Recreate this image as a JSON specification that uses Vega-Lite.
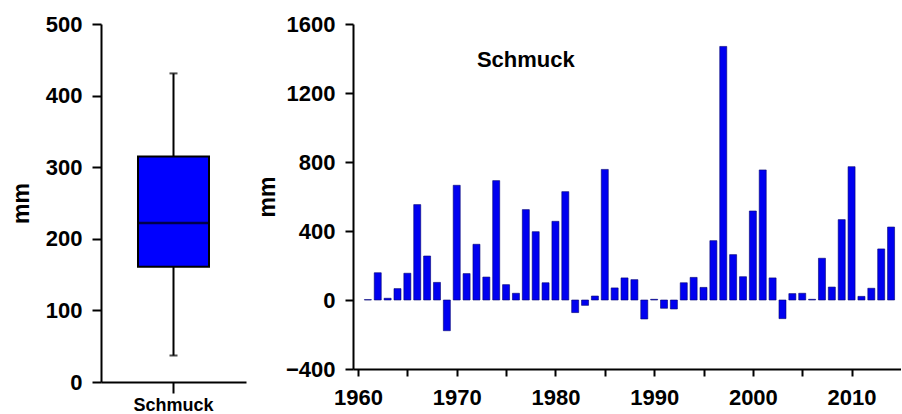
{
  "$schema": "https://vega.github.io/schema/vega-lite/v6.json",
  "padding": {"left": 10, "top": 13, "right": 0, "bottom": 0},
  "background": "white",
  "config": {
    "view": {"stroke": null},
    "axis": {
      "domainColor": "black", "domainWidth": 2, "tickColor": "black", "tickWidth": 2,
      "labelColor": "black", "labelFont": "Liberation Sans", "labelFontWeight": "bold",
      "titleColor": "black", "titleFont": "Liberation Sans", "titleFontWeight": "bold",
      "grid": false
    },
    "concat": {"spacing": 10}
  },
  "datasets": {
    "box": [{"station": "Schmuck", "min": 37, "q1": 161, "median": 222, "q3": 315, "max": 431}],
    "annual": [
      {"year": 1961, "value": 2}, {"year": 1962, "value": 158}, {"year": 1963, "value": 10},
      {"year": 1964, "value": 66}, {"year": 1965, "value": 155}, {"year": 1966, "value": 553},
      {"year": 1967, "value": 255}, {"year": 1968, "value": 102}, {"year": 1969, "value": -178},
      {"year": 1970, "value": 665}, {"year": 1971, "value": 153}, {"year": 1972, "value": 323},
      {"year": 1973, "value": 133}, {"year": 1974, "value": 692}, {"year": 1975, "value": 89},
      {"year": 1976, "value": 39}, {"year": 1977, "value": 524}, {"year": 1978, "value": 396},
      {"year": 1979, "value": 100}, {"year": 1980, "value": 456}, {"year": 1981, "value": 628},
      {"year": 1982, "value": -73}, {"year": 1983, "value": -31}, {"year": 1984, "value": 23},
      {"year": 1985, "value": 757}, {"year": 1986, "value": 70}, {"year": 1987, "value": 128},
      {"year": 1988, "value": 118}, {"year": 1989, "value": -110}, {"year": 1990, "value": 4},
      {"year": 1991, "value": -48}, {"year": 1992, "value": -52}, {"year": 1993, "value": 100},
      {"year": 1994, "value": 131}, {"year": 1995, "value": 73}, {"year": 1996, "value": 344},
      {"year": 1997, "value": 1470}, {"year": 1998, "value": 263}, {"year": 1999, "value": 135},
      {"year": 2000, "value": 516}, {"year": 2001, "value": 754}, {"year": 2002, "value": 128},
      {"year": 2003, "value": -108}, {"year": 2004, "value": 37}, {"year": 2005, "value": 39},
      {"year": 2006, "value": 4}, {"year": 2007, "value": 242}, {"year": 2008, "value": 75},
      {"year": 2009, "value": 466}, {"year": 2010, "value": 773}, {"year": 2011, "value": 21},
      {"year": 2012, "value": 68}, {"year": 2013, "value": 296}, {"year": 2014, "value": 423}
    ],
    "label": [{"text": "Schmuck", "year": 1977, "value": 1390}]
  },
  "hconcat": [
    {
      "width": 145,
      "height": 358,
      "data": {"name": "box"},
      "encoding": {
        "x": {
          "field": "station", "type": "nominal",
          "axis": {"title": null, "labelAngle": 0, "labelFontSize": 18, "tickSize": 11, "labelPadding": 3}
        }
      },
      "layer": [
        {
          "mark": {"type": "rule", "color": "black", "strokeWidth": 2},
          "encoding": {
            "y": {
              "field": "min", "type": "quantitative",
              "scale": {"domain": [0, 500], "nice": false},
              "axis": {
                "title": "mm", "titleFontSize": 23, "titlePadding": 12,
                "values": [0, 50, 100, 150, 200, 250, 300, 350, 400, 450, 500],
                "labelExpr": "datum.value % 100 === 0 ? datum.label : ''",
                "format": "d", "labelFontSize": 22, "tickSize": 9, "labelPadding": 10
              }
            },
            "y2": {"field": "max"}
          }
        },
        {
          "mark": {"type": "tick", "color": "black", "thickness": 2, "size": 8, "orient": "horizontal"},
          "encoding": {"y": {"field": "min", "type": "quantitative"}}
        },
        {
          "mark": {"type": "tick", "color": "black", "thickness": 2, "size": 8, "orient": "horizontal"},
          "encoding": {"y": {"field": "max", "type": "quantitative"}}
        },
        {
          "mark": {"type": "bar", "width": 71, "fill": "#0000ff", "stroke": "black", "strokeWidth": 2},
          "encoding": {
            "y": {"field": "q1", "type": "quantitative"},
            "y2": {"field": "q3"}
          }
        },
        {
          "mark": {"type": "tick", "color": "black", "thickness": 2.5, "size": 71, "orient": "horizontal"},
          "encoding": {"y": {"field": "median", "type": "quantitative"}}
        }
      ]
    },
    {
      "width": 548,
      "height": 345,
      "layer": [
        {
          "data": {"name": "annual"},
          "mark": {"type": "bar", "width": 7, "fill": "#0000f0", "stroke": "#000070", "strokeWidth": 0.6},
          "encoding": {
            "x": {
              "field": "year", "type": "quantitative",
              "scale": {"domain": [1960, 2014.5], "nice": false, "zero": false},
              "axis": {
                "title": null,
                "values": [1960, 1965, 1970, 1975, 1980, 1985, 1990, 1995, 2000, 2005, 2010],
                "labelExpr": "datum.value % 10 === 0 ? datum.label : ''",
                "format": "d", "labelFontSize": 22, "tickSize": 7, "labelPadding": 11
              }
            },
            "y": {
              "field": "value", "type": "quantitative",
              "scale": {"domain": [-400, 1600], "nice": false},
              "axis": {
                "title": "mm", "titleFontSize": 23, "titlePadding": 6,
                "values": [-400, -200, 0, 200, 400, 600, 800, 1000, 1200, 1400, 1600],
                "labelExpr": "datum.value % 400 === 0 ? datum.label : ''",
                "format": "d", "labelFontSize": 22, "tickSize": 8, "labelPadding": 10
              }
            }
          }
        },
        {
          "data": {"name": "label"},
          "mark": {"type": "text", "font": "Liberation Sans", "fontWeight": "bold", "fontSize": 22, "color": "black", "align": "center", "baseline": "middle"},
          "encoding": {
            "x": {"field": "year", "type": "quantitative"},
            "y": {"field": "value", "type": "quantitative"},
            "text": {"field": "text"}
          }
        }
      ]
    }
  ]
}
